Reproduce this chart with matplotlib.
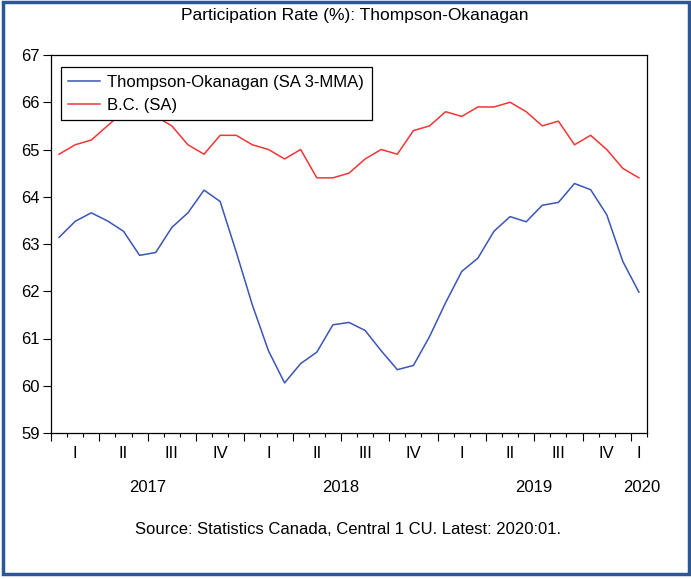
import numpy as np
import matplotlib
matplotlib.use("Agg")
import matplotlib.pyplot as plt
from matplotlib.patches import Rectangle
from matplotlib.ticker import MultipleLocator

plt.rcParams['font.family'] = ['Liberation Sans', 'DejaVu Sans']

# monthly data, Jan 2017 .. Jan 2020
start_year = 2017
thompson = [63.14, 63.48, 63.66, 63.49, 63.27, 62.76, 62.82, 63.35, 63.66, 64.14, 63.90, 62.83,
            61.71, 60.74, 60.06, 60.47, 60.71, 61.29, 61.34, 61.17, 60.74, 60.34, 60.43, 61.04,
            61.76, 62.42, 62.70, 63.27, 63.58, 63.47, 63.82, 63.88, 64.28, 64.15, 63.62, 62.63,
            61.98]
bc = [64.9, 65.1, 65.2, 65.5, 65.8, 65.9, 65.7, 65.5, 65.1, 64.9, 65.3, 65.3,
      65.1, 65.0, 64.8, 65.0, 64.4, 64.4, 64.5, 64.8, 65.0, 64.9, 65.4, 65.5,
      65.8, 65.7, 65.9, 65.9, 66.0, 65.8, 65.5, 65.6, 65.1, 65.3, 65.0, 64.6,
      64.4]
quarter_names = ["I", "II", "III", "IV"]
series_names = ["Thompson-Okanagan (SA 3-MMA)", "B.C. (SA)"]
title = "Participation Rate (%): Thompson-Okanagan"
source = "Source: Statistics Canada, Central 1 CU. Latest: 2020:01."

n = len(bc)
x = np.arange(n) + 0.5  # points sit mid-month
fs = 12

fig = plt.figure(figsize=(6.91, 5.79), dpi=100)
ax = fig.add_axes([51/691, 1-433/579, 596/691, 378/579])

ax.plot(x, thompson, color="#3a55b4", lw=1.1, label=series_names[0])
ax.plot(x, bc, color="#f23535", lw=1.1, label=series_names[1])

ax.set_xlim(0, n)
ax.set_ylim(59, 67)
ax.yaxis.set_major_locator(MultipleLocator(1))
ax.xaxis.set_major_locator(MultipleLocator(3))
ax.xaxis.set_minor_locator(MultipleLocator(1))
ax.tick_params(axis="x", which="major", direction="out", length=6, width=0.8, labelbottom=False)
ax.tick_params(axis="x", which="minor", direction="out", length=3, width=0.8)
ax.tick_params(axis="y", direction="out", length=6, width=0.8, labelsize=fs, pad=2)
for s in ax.spines.values():
    s.set_linewidth(0.9)

# quarter and year labels
trans = ax.get_xaxis_transform()
for i in range(0, n, 3):
    q = (i // 3) % 4
    qx = i + min(3, n - i) / 2
    ax.text(qx, -0.053, quarter_names[q], transform=trans, ha="center", va="center", fontsize=fs)
for i in range(0, n, 12):
    yx = i + min(12, n - i) / 2 if n - i >= 12 else i + 0.7
    ax.text(yx, -0.143, str(start_year + i // 12), transform=trans, ha="center", va="center", fontsize=fs)

leg = ax.legend(loc="upper left", bbox_to_anchor=(0.016, 0.968), fontsize=fs, frameon=True,
                fancybox=False, edgecolor="black", framealpha=1, borderpad=0.45,
                handlelength=1.9, handletextpad=0.45, labelspacing=0.5, borderaxespad=0)
leg.get_frame().set_linewidth(0.9)

fig.text(0.513, 0.974, title, ha="center", va="center", fontsize=12.5)
fig.text(0.504, 0.085, source, ha="center", va="center", fontsize=fs)

fig.patches.append(Rectangle((3/691, 1-574/579), 686/691, 572/579, transform=fig.transFigure,
                             fill=False, edgecolor="#2b5797", lw=2.5))

fig.savefig("out.png", dpi=100)
